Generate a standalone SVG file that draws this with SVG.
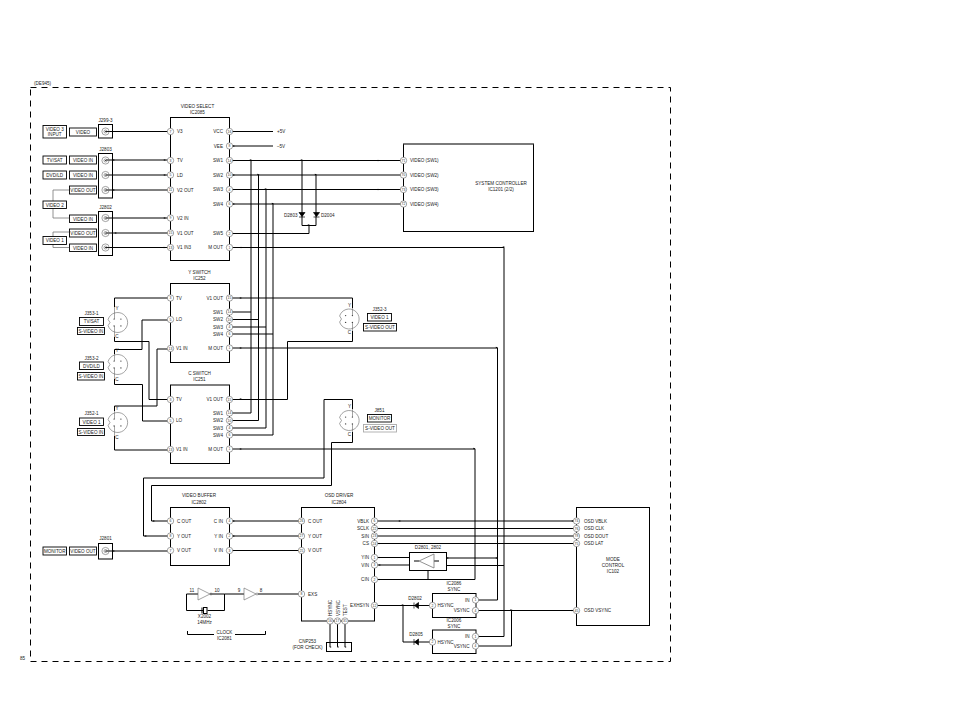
<svg xmlns="http://www.w3.org/2000/svg" width="954" height="717" viewBox="0 0 954 717">
<style>
text{font-family:"Liberation Sans",Arial,sans-serif;font-size:4.6px;fill:#222}
.m{text-anchor:middle}.e{text-anchor:end}
.b{fill:none;stroke:#000;stroke-width:1}
.c{fill:none;stroke:#000;stroke-width:1}
.g{fill:none;stroke:#777;stroke-width:.8}
.h{fill:none;stroke:#666;stroke-width:.6}
.p{fill:#fff;stroke:#666;stroke-width:.6}
.n{font-size:3.4px;text-anchor:middle;fill:#333}
.l{fill:#fff;stroke:#000;stroke-width:.9}
</style>
<defs>
<g id="bnc"><circle r="3.6" class="h"/><circle r="1.5" class="h"/><circle r=".5"/></g>
<g id="sv"><path d="M-9.4-3A10 10 0 1 1-9.4 3L-7.5 0Z" class="h"/><circle cx="-3.4" cy="-3.4" r=".7" fill="#444"/><circle cx="3.4" cy="-3.4" r=".7" fill="#444"/><circle cx="-3.4" cy="3.4" r=".7" fill="#444"/><circle cx="3.4" cy="3.4" r=".7" fill="#444"/></g>
<path id="t" d="M-1.2-.8L1.2 0L-1.2 .8Z"/>
<path id="dv" d="M-3-2.5H3L0 1.5ZM-3 2H3" fill="#000" stroke="#000" stroke-width=".7"/>
<path id="dh" d="M2.5-3V3L-1.5 0ZM-2-3V3" fill="#000" stroke="#000" stroke-width=".7"/>
</defs>

<path d="M30.5 87.5H670.5V661.5H30.5Z" fill="none" stroke="#000" stroke-width="1" stroke-dasharray="6 5"/>
<text x="34" y="85">(DE945)</text>
<text x="20" y="660">85</text>

<g id="connectors">
<path class="g" d="M69 190H53V218H69M69 232H53V247.5H69"/>
<path class="c" d="M106 131.5H170M106 160H170M106 175H170M106 190H170M106 218H170M106 233H170M106 247.5H170"/>
<path class="c" d="M229 131.5H273M229 146H273"/>
<path class="c" d="M229 160.500H403.500M229 175H403.500M229 189.500H403.500M229 204H403.500"/>
<path class="c" d="M302 160.500V225.500H316V175M309 225.500V233.500H229"/>
<path class="c" d="M251 160.500V413H229M258.500 175V420.500H229M266 189.500V428H229M273 204V435H229"/>
<path class="c" d="M229 312H251M229 319.500H258.500M229 327H266M229 334H273"/>
<path class="c" d="M229 247.500H504V636.500H476"/>
<path class="c" d="M229 348H497.500V600H476"/>
<path class="c" d="M229 449H475V579.500H375"/>
<path class="c" d="M170 298H114.500V307M114.500 337V341.500H149V399.500H170"/>
<path class="c" d="M170 320H142V349.500H114.500V354M114.500 379V384.500H142.500V421H170"/>
<path class="c" d="M170 349H157V406H114.500V411M114.500 436V450H170"/>
<path class="c" d="M229 298H352.500V308M352.500 331V341.500H287.500V399.500H229"/>
<path class="c" d="M352.500 409V399.500H324V478H143.500V536H170"/>
<path class="c" d="M352.500 432V442.500H331.500V485.500H151.500V521H170"/>
<path class="h" d="M114.500 307V319M114.500 326V337M114.500 354V361M114.500 368V379M114.500 411V419M114.500 426V436M352.500 308V316M352.500 323V331M352.500 409V417M352.500 424V432"/>
<path class="c" d="M106 551H170M229 521H301.500M229 536H301.500M229 550.500H301.500"/>
<path class="c" d="M186.500 594H198M186.500 594V610.500H203.500M207.500 610.500H224.500V594H210M224.500 594H244M258 594H301.500"/>
<path class="c" d="M375 521H576.500M375 528.500H576.500M375 536H576.500M375 543.500H576.500"/>
<path class="c" d="M375 557.500H409.500M375 565H409.500M446.500 558H497.500M446.500 565.500H504"/>
<path class="c" d="M428 570.500V579.500"/>
<path class="c" d="M375 605.500H432M403 605.500V642H432"/>
<path class="c" d="M476 610.500H576.500M476 646H511.500V610.500"/>
<path class="c" d="M330 624V647M337.500 624V647M345 624V647"/>
<g fill="#000">
<use href="#t" x="234" y="131.500"/><use href="#t" x="234" y="146"/><use href="#t" x="234" y="160.500"/><use href="#t" x="234" y="175"/><use href="#t" x="234" y="189.500"/><use href="#t" x="234" y="204"/><use href="#t" x="234" y="233.500"/><use href="#t" x="242" y="247.500"/>
<use href="#t" x="251" y="160"/><use href="#t" x="258.500" y="174.500"/><use href="#t" x="266" y="189"/><use href="#t" x="273" y="203.500"/><use href="#t" x="302" y="160"/><use href="#t" x="316" y="174.500"/><use href="#t" x="309" y="225"/><use href="#t" x="379" y="160.500"/><use href="#t" x="379" y="189.500"/>
<use href="#t" x="504" y="247"/><use href="#t" x="497" y="347.500"/><use href="#t" x="474.500" y="448.500"/><use href="#t" x="241" y="298"/><use href="#t" x="241" y="348"/><use href="#t" x="241" y="399"/><use href="#t" x="241" y="449"/>
<use href="#t" x="114" y="190"/><use href="#t" x="114" y="160"/><use href="#t" x="165" y="160"/><use href="#t" x="165" y="175"/><use href="#t" x="165" y="218"/><use href="#t" x="165" y="247.500"/><use href="#t" x="116" y="233"/>
<use href="#t" x="114" y="551"/><use href="#t" x="154" y="521"/><use href="#t" x="146" y="536"/><use href="#t" x="234" y="521"/><use href="#t" x="234" y="536"/><use href="#t" x="234" y="550.500"/>
<use href="#t" x="400" y="521"/><use href="#t" x="380" y="528.500"/><use href="#t" x="380" y="543.500"/><use href="#t" x="380" y="557.500"/><use href="#t" x="380" y="565"/><use href="#t" x="380" y="579.500"/><use href="#t" x="403" y="605"/><use href="#t" x="448" y="558"/><use href="#t" x="497" y="558"/><use href="#t" x="511.500" y="610"/><use href="#t" x="480" y="636.500"/><use href="#t" x="573" y="521"/><use href="#t" x="573" y="610.500"/>
</g>
</g>

<g id="labels-left">
<rect class="l" x="43" y="125.500" width="23.500" height="12.500"/><text class="m" x="54.700" y="130.500">VIDEO 3</text><text class="m" x="54.700" y="136">INPUT</text>
<rect class="l" x="69.500" y="128" width="27" height="8"/><text class="m" x="83" y="133.500">VIDEO</text>
<rect class="l" x="43" y="156" width="23.500" height="8"/><text class="m" x="54.700" y="161.500">TV/SAT</text>
<rect class="l" x="69.500" y="156" width="27" height="8"/><text class="m" x="83" y="161.500">VIDEO IN</text>
<rect class="l" x="43" y="171" width="23.500" height="8"/><text class="m" x="54.700" y="176.500">DVD/LD</text>
<rect class="l" x="69.500" y="171" width="27" height="8"/><text class="m" x="83" y="176.500">VIDEO IN</text>
<rect class="l" x="69.500" y="186" width="27" height="8"/><text class="m" x="83" y="191.500">VIDEO OUT</text>
<rect class="l" x="43" y="201" width="23.500" height="7.500"/><text class="m" x="54.700" y="206.500">VIDEO 2</text>
<rect class="l" x="69.500" y="215" width="27" height="7.500"/><text class="m" x="83" y="220.500">VIDEO IN</text>
<rect class="l" x="69.500" y="229" width="27" height="8"/><text class="m" x="83" y="234.500">VIDEO OUT</text>
<rect class="l" x="43" y="236.500" width="23.500" height="8"/><text class="m" x="54.700" y="242">VIDEO 1</text>
<rect class="l" x="69.500" y="244" width="27" height="7.500"/><text class="m" x="83" y="249.500">VIDEO IN</text>
<rect class="l" x="43" y="547" width="23.500" height="8"/><text class="m" x="54.700" y="552.500">MONITOR</text>
<rect class="l" x="69.500" y="547" width="27" height="8"/><text class="m" x="83" y="552.500">VIDEO OUT</text>
<rect class="l" x="79.500" y="317.500" width="24" height="8"/><text class="m" x="91.500" y="323">TV/SAT</text>
<rect class="l" x="77.500" y="327.500" width="27" height="7"/><text class="m" x="91" y="332.700">S-VIDEO IN</text>
<rect class="l" x="79.500" y="362" width="24" height="7.500"/><text class="m" x="91.500" y="367.500">DVD/LD</text>
<rect class="l" x="77.500" y="372.500" width="27" height="7.500"/><text class="m" x="91" y="378">S-VIDEO IN</text>
<rect class="l" x="79.500" y="418" width="24" height="7.500"/><text class="m" x="91.500" y="423.500">VIDEO 1</text>
<rect class="l" x="77.500" y="428.500" width="27" height="7"/><text class="m" x="91" y="433.700">S-VIDEO IN</text>
<rect class="l" x="367.500" y="313.500" width="24" height="7.500"/><text class="m" x="379.500" y="319">VIDEO 1</text>
<rect class="l" x="363.500" y="323.500" width="33" height="7.500"/><text class="m" x="380" y="329">S-VIDEO OUT</text>
<rect class="l" x="367.500" y="414.500" width="24" height="7.500"/><text class="m" x="379.500" y="420">MONITOR</text>
<rect x="363.500" y="424.500" width="33" height="7.500" fill="#fff" stroke="#aaa" stroke-width=".9"/><text class="m" x="380" y="430">S-VIDEO OUT</text>
</g>

<g id="J299-3"><text class="m" x="105.500" y="121.500">J299-3</text><rect class="b" x="98.500" y="124.500" width="14" height="13.500"/><use href="#bnc" x="105.500" y="131.500"/></g>
<g id="J2803"><text class="m" x="105.500" y="150.500">J2803</text><rect class="b" x="98.500" y="153.500" width="14" height="44.500"/><use href="#bnc" x="105.500" y="160.500"/><use href="#bnc" x="105.500" y="175"/><use href="#bnc" x="105.500" y="190"/></g>
<g id="J2802"><text class="m" x="105.500" y="208.500">J2802</text><rect class="b" x="98.500" y="211.500" width="14" height="44"/><use href="#bnc" x="105.500" y="218"/><use href="#bnc" x="105.500" y="233"/><use href="#bnc" x="105.500" y="247.500"/></g>
<g id="J2801"><text class="m" x="105.500" y="540">J2801</text><rect class="b" x="98.500" y="543.500" width="14" height="15.500"/><use href="#bnc" x="105.500" y="551"/></g>

<g id="J353-1"><text class="m" x="91.500" y="315">J353-1</text><use href="#sv" x="117.500" y="322.500"/><text class="m" x="117" y="310">Y</text><text class="m" x="117" y="338">C</text></g>
<g id="J353-2"><text class="m" x="91.500" y="359.500">J353-2</text><use href="#sv" x="117.500" y="364.500"/><text class="m" x="117" y="352">Y</text><text class="m" x="117" y="381">C</text></g>
<g id="J352-1"><text class="m" x="91.500" y="415">J352-1</text><use href="#sv" x="117.500" y="422.500"/><text class="m" x="117" y="410">Y</text><text class="m" x="117" y="439">C</text></g>
<g id="J352-3"><text class="m" x="379.500" y="311">J352-3</text><use href="#sv" x="349" y="319"/><text class="m" x="349.500" y="306.500">Y</text><text class="m" x="349.500" y="334">C</text></g>
<g id="J851"><text class="m" x="379.500" y="412">J851</text><use href="#sv" x="349" y="420.500"/><text class="m" x="349.500" y="408">Y</text><text class="m" x="349.500" y="435.500">C</text></g>

<g id="IC2085">
<text class="m" x="197.500" y="107.500">VIDEO SELECT</text><text class="m" x="197.500" y="113.500">IC2085</text>
<rect class="b" x="170.500" y="117.500" width="59" height="143"/>
<circle class="p" cx="170.500" cy="131.500" r="3.200"/><text class="n" x="170.500" y="132.700">7</text><text x="177" y="133">V3</text>
<circle class="p" cx="170.500" cy="160.500" r="3.200"/><text class="n" x="170.500" y="161.700">3</text><text x="177" y="162">TV</text>
<circle class="p" cx="170.500" cy="175" r="3.200"/><text class="n" x="170.500" y="176.200">5</text><text x="177" y="176.500">LD</text>
<circle class="p" cx="170.500" cy="190" r="3.200"/><text class="n" x="170.500" y="191.200">11</text><text x="177" y="191.500">V2 OUT</text>
<circle class="p" cx="170.500" cy="218" r="3.200"/><text class="n" x="170.500" y="219.200">9</text><text x="177" y="219.500">V2 IN</text>
<circle class="p" cx="170.500" cy="233" r="3.200"/><text class="n" x="170.500" y="234.200">15</text><text x="177" y="234.500">V1 OUT</text>
<circle class="p" cx="170.500" cy="247.500" r="3.200"/><text class="n" x="170.500" y="248.700">13</text><text x="177" y="249">V1 IN3</text>
<circle class="p" cx="229.500" cy="131.500" r="3.200"/><text class="n" x="229.500" y="132.700">16</text><text class="e" x="223" y="133">VCC</text>
<circle class="p" cx="229.500" cy="146" r="3.200"/><text class="n" x="229.500" y="147.200">8</text><text class="e" x="223" y="147.500">VEE</text>
<circle class="p" cx="229.500" cy="160.500" r="3.200"/><text class="n" x="229.500" y="161.700">14</text><text class="e" x="223" y="162">SW1</text>
<circle class="p" cx="229.500" cy="175" r="3.200"/><text class="n" x="229.500" y="176.200">10</text><text class="e" x="223" y="176.500">SW2</text>
<circle class="p" cx="229.500" cy="189.500" r="3.200"/><text class="n" x="229.500" y="190.700">4</text><text class="e" x="223" y="191">SW3</text>
<circle class="p" cx="229.500" cy="204" r="3.200"/><text class="n" x="229.500" y="205.200">6</text><text class="e" x="223" y="205.500">SW4</text>
<circle class="p" cx="229.500" cy="233.500" r="3.200"/><text class="n" x="229.500" y="234.700">2</text><text class="e" x="223" y="235">SW5</text>
<circle class="p" cx="229.500" cy="247.500" r="3.200"/><text class="n" x="229.500" y="248.700">1</text><text class="e" x="223" y="249">M OUT</text>
</g>
<text x="277" y="133">+5V</text><text x="277" y="147.500">–5V</text>

<g id="IC252">
<text class="m" x="199.500" y="273.500">Y SWITCH</text><text class="m" x="199.500" y="279.500">IC252</text>
<rect class="b" x="170.500" y="283.500" width="59" height="79"/>
<circle class="p" cx="170.500" cy="298" r="3.200"/><text class="n" x="170.500" y="299.200">3</text><text x="176" y="299.500">TV</text>
<circle class="p" cx="170.500" cy="319.500" r="3.200"/><text class="n" x="170.500" y="320.700">5</text><text x="176" y="321">LO</text>
<circle class="p" cx="170.500" cy="348.500" r="3.200"/><text class="n" x="170.500" y="349.700">13</text><text x="176" y="350">V1 IN</text>
<circle class="p" cx="229.500" cy="298" r="3.200"/><text class="n" x="229.500" y="299.200">15</text><text class="e" x="223" y="299.500">V1 OUT</text>
<circle class="p" cx="229.500" cy="312" r="3.200"/><text class="n" x="229.500" y="313.200">14</text><text class="e" x="223" y="313.500">SW1</text>
<circle class="p" cx="229.500" cy="319.500" r="3.200"/><text class="n" x="229.500" y="320.700">10</text><text class="e" x="223" y="321">SW2</text>
<circle class="p" cx="229.500" cy="327" r="3.200"/><text class="n" x="229.500" y="328.200">4</text><text class="e" x="223" y="328.500">SW3</text>
<circle class="p" cx="229.500" cy="334" r="3.200"/><text class="n" x="229.500" y="335.200">6</text><text class="e" x="223" y="335.500">SW4</text>
<circle class="p" cx="229.500" cy="348" r="3.200"/><text class="n" x="229.500" y="349.200">1</text><text class="e" x="223" y="349.500">M OUT</text>
</g>

<g id="IC251">
<text class="m" x="199.500" y="374.500">C SWITCH</text><text class="m" x="199.500" y="380.500">IC251</text>
<rect class="b" x="170.500" y="385" width="59" height="78.500"/>
<circle class="p" cx="170.500" cy="399.500" r="3.200"/><text class="n" x="170.500" y="400.700">3</text><text x="176" y="401">TV</text>
<circle class="p" cx="170.500" cy="420.500" r="3.200"/><text class="n" x="170.500" y="421.700">5</text><text x="176" y="422">LO</text>
<circle class="p" cx="170.500" cy="449.500" r="3.200"/><text class="n" x="170.500" y="450.700">13</text><text x="176" y="451">V1 IN</text>
<circle class="p" cx="229.500" cy="399.500" r="3.200"/><text class="n" x="229.500" y="400.700">15</text><text class="e" x="223" y="401">V1 OUT</text>
<circle class="p" cx="229.500" cy="413" r="3.200"/><text class="n" x="229.500" y="414.200">14</text><text class="e" x="223" y="414.500">SW1</text>
<circle class="p" cx="229.500" cy="420.500" r="3.200"/><text class="n" x="229.500" y="421.700">10</text><text class="e" x="223" y="422">SW2</text>
<circle class="p" cx="229.500" cy="428" r="3.200"/><text class="n" x="229.500" y="429.200">4</text><text class="e" x="223" y="429.500">SW3</text>
<circle class="p" cx="229.500" cy="435" r="3.200"/><text class="n" x="229.500" y="436.200">6</text><text class="e" x="223" y="436.500">SW4</text>
<circle class="p" cx="229.500" cy="449" r="3.200"/><text class="n" x="229.500" y="450.200">1</text><text class="e" x="223" y="450.500">M OUT</text>
</g>

<g id="IC1201">
<rect x="403.500" y="144" width="130" height="87.500" fill="none" stroke="#000"/>
<path d="M403.500 144H533.500" stroke="#777" stroke-width="1"/>
<text class="m" x="501" y="185">SYSTEM CONTROLLER</text><text class="m" x="501" y="191">IC1201 (2/2)</text>
<circle class="p" cx="403.500" cy="160.500" r="3.200"/><text class="n" x="403.500" y="161.700">71</text><text x="410" y="162">VIDEO (SW1)</text>
<circle class="p" cx="403.500" cy="175" r="3.200"/><text class="n" x="403.500" y="176.200">70</text><text x="410" y="176.500">VIDEO (SW2)</text>
<circle class="p" cx="403.500" cy="189.500" r="3.200"/><text class="n" x="403.500" y="190.700">73</text><text x="410" y="191">VIDEO (SW3)</text>
<circle class="p" cx="403.500" cy="204" r="3.200"/><text class="n" x="403.500" y="205.200">72</text><text x="410" y="205.500">VIDEO (SW4)</text>
</g>

<g id="D2803"><use href="#dv" x="302" y="215"/><text class="e" x="297.500" y="216.500">D2803</text></g>
<g id="D2004"><use href="#dv" x="316.500" y="215"/><text x="321" y="216.500">D2004</text></g>

<g id="IC2802">
<text class="m" x="199" y="497">VIDEO BUFFER</text><text class="m" x="199" y="503.500">IC2802</text>
<rect class="b" x="170.500" y="507.500" width="59" height="58"/>
<circle class="p" cx="170.500" cy="521" r="3.200"/><text class="n" x="170.500" y="522.200">6</text><text x="177" y="522.500">C OUT</text>
<circle class="p" cx="170.500" cy="536" r="3.200"/><text class="n" x="170.500" y="537.200">8</text><text x="177" y="537.500">Y OUT</text>
<circle class="p" cx="170.500" cy="550.500" r="3.200"/><text class="n" x="170.500" y="551.700">7</text><text x="177" y="552">V OUT</text>
<circle class="p" cx="229.500" cy="521" r="3.200"/><text class="n" x="229.500" y="522.200">4</text><text class="e" x="223" y="522.500">C IN</text>
<circle class="p" cx="229.500" cy="536" r="3.200"/><text class="n" x="229.500" y="537.200">2</text><text class="e" x="223" y="537.500">Y IN</text>
<circle class="p" cx="229.500" cy="550.500" r="3.200"/><text class="n" x="229.500" y="551.700">3</text><text class="e" x="223" y="552">V IN</text>
</g>

<g id="IC2081">
<path class="h" d="M198 588V600L210 594ZM244 588V600L256 594Z"/><circle class="h" cx="211" cy="594" r="1"/><circle class="h" cx="257" cy="594" r="1"/>
<text class="m" x="192" y="591.500">11</text><text class="m" x="217" y="591.500">10</text><text class="m" x="239" y="591.500">9</text><text class="m" x="261" y="591.500">8</text>
<path class="c" d="M187.500 631V634.500H214M235 634.500H265.500V631"/>
<text class="m" x="224.500" y="633.500">CLOCK</text><text class="m" x="224.500" y="639.500">IC2081</text>
</g>
<g id="X2002"><rect x="203.500" y="607.500" width="3.500" height="6" fill="#fff" stroke="#000"/><path d="M202 607.500V613.500" stroke="#000"/><text class="m" x="204.500" y="617.500">X2002</text><text class="m" x="204.500" y="623.500">14MHz</text></g>

<g id="IC2804">
<text class="m" x="339" y="497">OSD DRIVER</text><text class="m" x="339" y="503.500">IC2804</text>
<rect class="b" x="301.500" y="507.500" width="73" height="113.500"/>
<circle class="p" cx="301.500" cy="521" r="3.200"/><text class="n" x="301.500" y="522.200">26</text><text x="308" y="522.500">C OUT</text>
<circle class="p" cx="301.500" cy="536" r="3.200"/><text class="n" x="301.500" y="537.200">27</text><text x="308" y="537.500">Y OUT</text>
<circle class="p" cx="301.500" cy="550.500" r="3.200"/><text class="n" x="301.500" y="551.700">25</text><text x="308" y="552">V OUT</text>
<circle class="p" cx="301.500" cy="594" r="3.200"/><text class="n" x="301.500" y="595.200">8</text><text x="308" y="595.500">EXS</text>
<circle class="p" cx="374.500" cy="521" r="3.200"/><text class="n" x="374.500" y="522.200">6</text><text class="e" x="369" y="522.500">VBLK</text>
<circle class="p" cx="374.500" cy="528.500" r="3.200"/><text class="n" x="374.500" y="529.700">22</text><text class="e" x="369" y="530">SCLK</text>
<circle class="p" cx="374.500" cy="536" r="3.200"/><text class="n" x="374.500" y="537.200">23</text><text class="e" x="369" y="537.500">SIN</text>
<circle class="p" cx="374.500" cy="543.500" r="3.200"/><text class="n" x="374.500" y="544.700">24</text><text class="e" x="369" y="545">CS</text>
<circle class="p" cx="374.500" cy="557.500" r="3.200"/><text class="n" x="374.500" y="558.700">1</text><text class="e" x="369" y="559">YIN</text>
<circle class="p" cx="374.500" cy="565" r="3.200"/><text class="n" x="374.500" y="566.200">3</text><text class="e" x="369" y="566.500">VIN</text>
<circle class="p" cx="374.500" cy="579.500" r="3.200"/><text class="n" x="374.500" y="580.700">2</text><text class="e" x="369" y="581">CIN</text>
<circle class="p" cx="374.500" cy="605.500" r="3.200"/><text class="n" x="374.500" y="606.700">12</text><text class="e" x="369" y="607">EXHSYN</text>
<circle class="p" cx="330" cy="621" r="3.200"/><text class="n" x="330" y="622.200">16</text>
<circle class="p" cx="337.500" cy="621" r="3.200"/><text class="n" x="337.500" y="622.200">17</text>
<circle class="p" cx="345" cy="621" r="3.200"/><text class="n" x="345" y="622.200">31</text>
<text transform="translate(332 616)rotate(-90)">HSYNC</text><text transform="translate(339.500 616)rotate(-90)">VSYNC</text><text transform="translate(347 616)rotate(-90)">TEST</text>
</g>

<g id="CNP253"><rect class="b" x="326.500" y="642.500" width="25" height="9"/><circle cx="330.500" cy="647" r=".8" fill="#333"/><circle cx="338" cy="647" r=".8" fill="#333"/><circle cx="345.500" cy="647" r=".8" fill="#333"/><text class="m" x="307.500" y="642.500">CNP253</text><text class="m" x="307.500" y="648.500">(FOR CHECK)</text></g>

<g id="D2801"><text class="m" x="428" y="548.500">D2801, 2802</text><rect class="b" x="409.500" y="552.500" width="37" height="18"/><path class="c" d="M414 561H419M434 561H439"/><path d="M419 561L434 554V568Z" fill="none" stroke="#777" stroke-width=".8"/></g>

<g id="D2802"><use href="#dh" x="416" y="605.500"/><text class="m" x="415" y="599.500">D2802</text></g>
<g id="D2805"><use href="#dh" x="416" y="642"/><text class="m" x="416" y="635.500">D2805</text></g>

<g id="IC2086"><text class="m" x="454" y="585">IC2086</text><text class="m" x="454" y="591">SYNC</text><rect class="b" x="432.500" y="593.500" width="43.500" height="24"/>
<circle class="p" cx="432.500" cy="605.500" r="3.200"/><text class="n" x="432.500" y="606.700">2</text><text x="437.500" y="607">HSYNC</text>
<circle class="p" cx="475.500" cy="600" r="3.200"/><text class="n" x="475.500" y="601.200">1</text><text class="e" x="469.500" y="601.500">IN</text>
<circle class="p" cx="475.500" cy="610.500" r="3.200"/><text class="n" x="475.500" y="611.700">4</text><text class="e" x="469.500" y="612">VSYNC</text>
</g>
<g id="IC2006"><text class="m" x="454" y="621.500">IC2006</text><text class="m" x="454" y="627.500">SYNC</text><rect class="b" x="432.500" y="630" width="43.500" height="23.500"/>
<circle class="p" cx="432.500" cy="642" r="3.200"/><text class="n" x="432.500" y="643.200">2</text><text x="437.500" y="643.500">HSYNC</text>
<circle class="p" cx="475.500" cy="636.500" r="3.200"/><text class="n" x="475.500" y="637.700">1</text><text class="e" x="469.500" y="638">IN</text>
<circle class="p" cx="475.500" cy="646" r="3.200"/><text class="n" x="475.500" y="647.200">4</text><text class="e" x="469.500" y="647.500">VSYNC</text>
</g>

<g id="IC102"><rect class="b" x="576.500" y="507.500" width="73" height="118"/>
<text class="m" x="613" y="560.500">MODE</text><text class="m" x="613" y="566.500">CONTROL</text><text class="m" x="613" y="572.500">IC102</text>
<circle class="p" cx="576.500" cy="521" r="3.200"/><text class="n" x="576.500" y="522.200">74</text><text x="584" y="522.500">OSD VBLK</text>
<circle class="p" cx="576.500" cy="528.500" r="3.200"/><text class="n" x="576.500" y="529.700">76</text><text x="584" y="530">OSD CLK</text>
<circle class="p" cx="576.500" cy="536" r="3.200"/><text class="n" x="576.500" y="537.200">78</text><text x="584" y="537.500">OSD DOUT</text>
<circle class="p" cx="576.500" cy="543.500" r="3.200"/><text class="n" x="576.500" y="544.700">75</text><text x="584" y="545">OSD LAT</text>
<circle class="p" cx="576.500" cy="610.500" r="3.200"/><text class="n" x="576.500" y="611.700">45</text><text x="584" y="612">OSD VSYNC</text>
</g>
</svg>
